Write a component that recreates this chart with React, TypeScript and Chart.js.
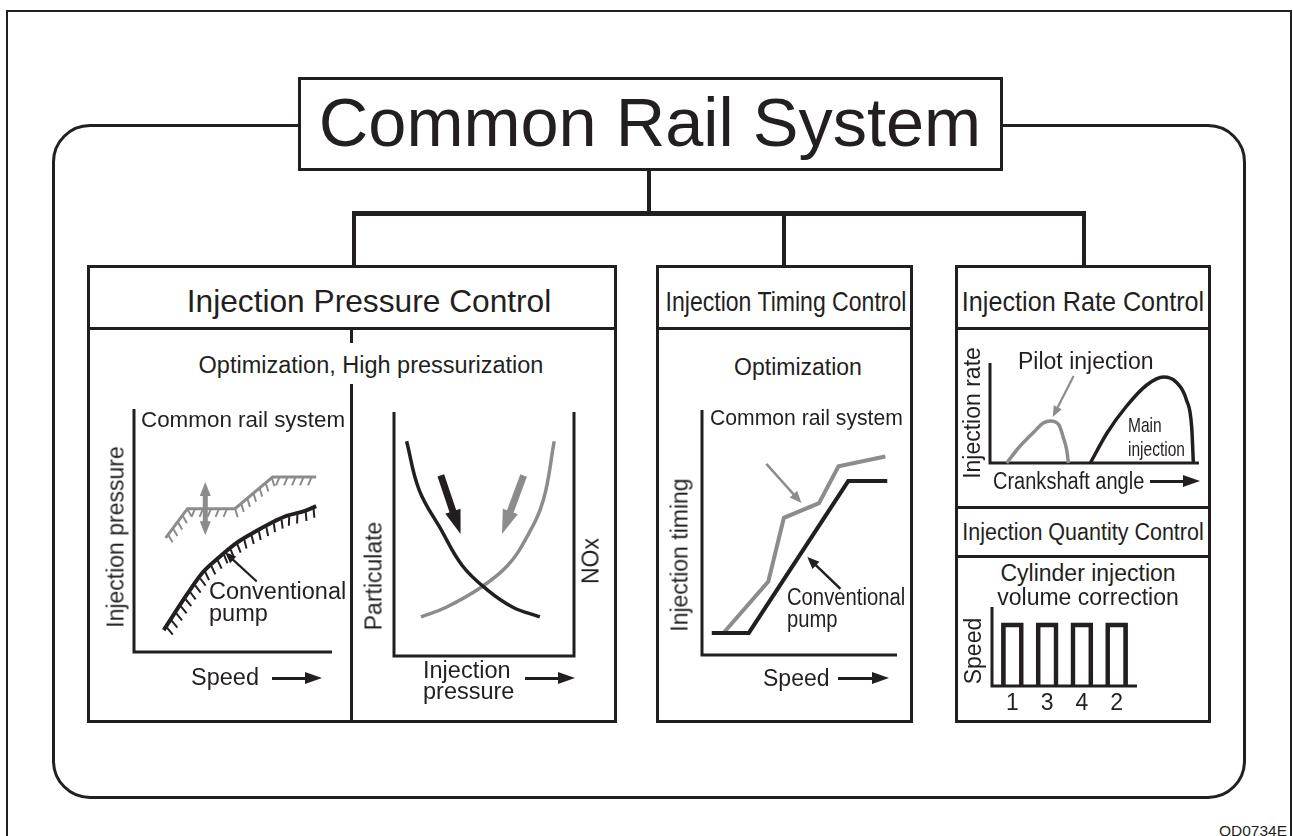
import React, { useEffect, useRef } from 'react';
import { Chart, registerables } from 'chart.js';

Chart.register(...registerables);

const INK = '#231f20';
const GRAY = '#8c8c8c';
const FONT = "'Liberation Sans', Arial, Helvetica, sans-serif";

// ---------------- Data (relative units 0–100) ----------------
// Injection pressure vs speed
const crSpeed = [16, 27, 51, 70, 92];
const crPressure = [47, 59, 59, 72, 72];
const convSpeed = [15, 27, 35, 43, 52, 60, 69, 77, 86, 92];
const convPressure = [9, 24, 33, 39, 45, 49, 53, 56, 58, 60];
const pressureRangeSpeed = [36, 36];
const pressureRangeValue = [48, 70];
const convPointerSpeed = [62, 46];
const convPointerValue = [29, 41];

// Particulate / NOx vs injection pressure
const pmPressure = [7, 14, 26, 38, 52, 66, 81];
const pmLevel = [88, 68, 52, 37, 27, 20, 16];
const noxPressure = [15, 29, 48, 63, 74, 83, 89];
const noxLevel = [16, 20, 28, 37, 49, 64, 88];
const pmTrendPressure = [26, 37];
const pmTrendLevel = [74, 50];
const noxTrendPressure = [72, 60];
const noxTrendLevel = [74, 50];

// Injection timing vs speed
const timingCrSpeed = [11, 34, 42, 60, 70, 94];
const timingCrValue = [9, 30, 56, 62, 77, 81];
const timingConvSpeed = [5, 24, 75, 95];
const timingConvValue = [9, 9, 71, 71];
const timingCrPointerSpeed = [33, 51];
const timingCrPointerValue = [78, 62];
const timingConvPointerSpeed = [71, 54];
const timingConvPointerValue = [27, 40];

// Injection rate vs crankshaft angle
const pilotAngle = [8, 14, 21, 25.5, 29, 33, 35, 36.7, 37.5];
const pilotRate = [0, 16, 31, 40, 42, 38, 26, 13, 0];
const mainAngle = [48, 56, 65, 75, 83, 89, 94, 96.5, 97.3];
const mainRate = [0, 30, 56, 78, 86, 81, 63, 36, 0];
const pilotPointerAngle = [40, 30];
const pilotPointerRate = [87, 46];

// Cylinder speed after injection volume correction
const cylinderOrder = ['1', '3', '4', '2'];
const cylinderSpeed = [80, 80, 80, 80];

// ---------------- Chart helpers ----------------
function drawArrowPx(ctx: any, x1: number, y1: number, x2: number, y2: number, color: string, width: number, head: number, half: number, both?: boolean) {
  const dx = x2 - x1, dy = y2 - y1, L = Math.hypot(dx, dy);
  if (!L) return;
  const ux = dx / L, uy = dy / L;
  ctx.strokeStyle = color;
  ctx.fillStyle = color;
  ctx.lineWidth = width;
  ctx.lineCap = 'butt';
  const sx = both ? x1 + ux * head * 0.8 : x1;
  const sy = both ? y1 + uy * head * 0.8 : y1;
  const ex = x2 - ux * head * 0.8, ey = y2 - uy * head * 0.8;
  ctx.beginPath();
  ctx.moveTo(sx, sy);
  ctx.lineTo(ex, ey);
  ctx.stroke();
  const tri = (tx: number, ty: number, vx: number, vy: number) => {
    ctx.beginPath();
    ctx.moveTo(tx, ty);
    ctx.lineTo(tx - vx * head - vy * half, ty - vy * head + vx * half);
    ctx.lineTo(tx - vx * head + vy * half, ty - vy * head - vx * half);
    ctx.closePath();
    ctx.fill();
  };
  tri(x2, y2, ux, uy);
  if (both) tri(x1, y1, -ux, -uy);
}

type ArrowSpec = { xs: number[]; ys: number[]; color: string; width: number; head: number; half: number; both?: boolean };
type DiagramCfg = { axisWidth: number; right?: boolean; extL?: number; extR?: number; arrows?: ArrowSpec[]; tickLabels?: boolean };

function diagramPlugin(cfg: DiagramCfg) {
  return {
    id: 'diagram',
    beforeDatasetsDraw(chart: any) {
      const { ctx, chartArea: a } = chart;
      const l = a.left - (cfg.extL || 0);
      const r = a.right + (cfg.extR || 0);
      ctx.save();
      ctx.strokeStyle = INK;
      ctx.lineWidth = cfg.axisWidth;
      ctx.lineJoin = 'miter';
      ctx.lineCap = 'butt';
      ctx.beginPath();
      ctx.moveTo(l, a.top);
      ctx.lineTo(l, a.bottom);
      ctx.lineTo(r, a.bottom);
      if (cfg.right) ctx.lineTo(r, a.top);
      ctx.stroke();
      ctx.restore();
    },
    afterDatasetsDraw(chart: any) {
      const { ctx, chartArea: a, scales } = chart;
      ctx.save();
      // hatching along curves
      chart.data.datasets.forEach((ds: any, i: number) => {
        const h = ds.hatch;
        if (!h) return;
        const pts = chart.getDatasetMeta(i).data.map((e: any) => ({ x: e.x, y: e.y }));
        ctx.strokeStyle = ds.borderColor;
        ctx.lineWidth = h.width;
        ctx.lineCap = 'butt';
        const c = Math.cos(h.tilt), s = Math.sin(h.tilt);
        let carry = h.gap / 2;
        ctx.beginPath();
        for (let k = 0; k < pts.length - 1; k++) {
          const p = pts[k], q = pts[k + 1];
          const dx = q.x - p.x, dy = q.y - p.y, L = Math.hypot(dx, dy);
          if (!L) continue;
          const ux = dx / L, uy = dy / L;
          const nx = -uy, ny = ux;
          const tx = nx * c - ux * s, ty = ny * c - uy * s;
          let t = carry;
          while (t <= L) {
            const px = p.x + ux * t, py = p.y + uy * t;
            ctx.moveTo(px + tx * h.off, py + ty * h.off);
            ctx.lineTo(px + tx * (h.off + h.len), py + ty * (h.off + h.len));
            t += h.gap;
          }
          carry = t - L;
        }
        ctx.stroke();
      });
      // annotation arrows
      (cfg.arrows || []).forEach((ar) => {
        const x1 = scales.x.getPixelForValue(ar.xs[0]);
        const x2 = scales.x.getPixelForValue(ar.xs[1]);
        const y1 = scales.y.getPixelForValue(ar.ys[0]);
        const y2 = scales.y.getPixelForValue(ar.ys[1]);
        drawArrowPx(ctx, x1, y1, x2, y2, ar.color, ar.width, ar.head, ar.half, ar.both);
      });
      // category labels
      if (cfg.tickLabels) {
        ctx.fillStyle = INK;
        ctx.font = `23px ${FONT}`;
        ctx.textAlign = 'center';
        ctx.textBaseline = 'alphabetic';
        (chart.data.labels || []).forEach((lab: string, i: number) => {
          ctx.fillText(lab, scales.x.getPixelForValue(i), a.bottom + 23.5);
        });
      }
      ctx.restore();
    },
  };
}

function lineDs(xs: number[], ys: number[], color: string, width: number, smooth: string | false, hatch?: any) {
  return {
    data: xs.map((x, i) => ({ x, y: ys[i] })),
    borderColor: color,
    backgroundColor: color,
    borderWidth: width,
    pointRadius: 0,
    pointHoverRadius: 0,
    fill: false,
    clip: false,
    tension: smooth ? 0.4 : 0,
    cubicInterpolationMode: smooth === 'monotone' ? 'monotone' : 'default',
    borderCapStyle: 'butt',
    borderJoinStyle: 'miter',
    hatch,
  };
}

function baseOptions(xType = 'linear') {
  return {
    responsive: false,
    maintainAspectRatio: false,
    animation: false,
    devicePixelRatio: 1,
    events: [],
    plugins: { legend: { display: false }, tooltip: { enabled: false } },
    scales: {
      x: xType === 'linear' ? { type: 'linear', min: 0, max: 100, display: false } : { type: 'category', display: false },
      y: { type: 'linear', min: 0, max: 100, display: false },
    },
  } as any;
}

const pressureChart = () => ({
  type: 'line',
  data: {
    datasets: [
      lineDs(crSpeed, crPressure, GRAY, 3, false, { len: 8, gap: 8, tilt: 0.4, width: 2, off: 1 }),
      lineDs(convSpeed, convPressure, INK, 4, 'monotone', { len: 9, gap: 8.5, tilt: 0.3, width: 2, off: 1.5 }),
    ],
  },
  options: baseOptions(),
  plugins: [
    diagramPlugin({
      axisWidth: 3,
      arrows: [
        { xs: pressureRangeSpeed, ys: pressureRangeValue, color: GRAY, width: 5, head: 14, half: 5.5, both: true },
        { xs: convPointerSpeed, ys: convPointerValue, color: INK, width: 2.2, head: 11, half: 4.5 },
      ],
    }),
  ],
});

const emissionChart = () => ({
  type: 'line',
  data: {
    datasets: [
      lineDs(pmPressure, pmLevel, INK, 3.5, 'spline'),
      lineDs(noxPressure, noxLevel, GRAY, 3.5, 'spline'),
    ],
  },
  options: baseOptions(),
  plugins: [
    diagramPlugin({
      axisWidth: 3,
      right: true,
      arrows: [
        { xs: pmTrendPressure, ys: pmTrendLevel, color: INK, width: 7, head: 24, half: 8 },
        { xs: noxTrendPressure, ys: noxTrendLevel, color: GRAY, width: 7, head: 24, half: 8 },
      ],
    }),
  ],
});

const timingChart = () => ({
  type: 'line',
  data: {
    datasets: [
      lineDs(timingConvSpeed, timingConvValue, INK, 4, false),
      lineDs(timingCrSpeed, timingCrValue, GRAY, 4, false),
    ],
  },
  options: baseOptions(),
  plugins: [
    diagramPlugin({
      axisWidth: 3,
      arrows: [
        { xs: timingCrPointerSpeed, ys: timingCrPointerValue, color: GRAY, width: 2.5, head: 12, half: 5 },
        { xs: timingConvPointerSpeed, ys: timingConvPointerValue, color: INK, width: 2.5, head: 12, half: 5 },
      ],
    }),
  ],
});

const rateChart = () => ({
  type: 'line',
  data: {
    datasets: [
      lineDs(pilotAngle, pilotRate, GRAY, 3.5, 'monotone'),
      lineDs(mainAngle, mainRate, INK, 3.5, 'monotone'),
    ],
  },
  options: baseOptions(),
  plugins: [
    diagramPlugin({
      axisWidth: 3,
      arrows: [{ xs: pilotPointerAngle, ys: pilotPointerRate, color: GRAY, width: 2.2, head: 11, half: 4.5 }],
    }),
  ],
});

const cylinderChart = () => ({
  type: 'bar',
  data: {
    labels: cylinderOrder,
    datasets: [
      {
        data: cylinderSpeed,
        backgroundColor: 'rgba(255,255,255,0)',
        borderColor: INK,
        borderWidth: 4,
        barThickness: 22,
        borderSkipped: 'start',
      },
    ],
  },
  options: baseOptions('category'),
  plugins: [diagramPlugin({ axisWidth: 3, extL: 3, extR: 3, tickLabels: true })],
});

// ---------------- Components ----------------
function MiniChart({ box, area, make }: { box: number[]; area: number[]; make: () => any }) {
  const ref = useRef<HTMLCanvasElement>(null);
  useEffect(() => {
    const cfg = make();
    cfg.options.layout = {
      padding: {
        left: area[0] - box[0],
        top: area[1] - box[1],
        right: box[0] + box[2] - area[2],
        bottom: box[1] + box[3] - area[3],
      },
    };
    const chart = new Chart(ref.current as HTMLCanvasElement, cfg);
    return () => chart.destroy();
  }, []);
  return (
    <canvas
      ref={ref}
      width={box[2]}
      height={box[3]}
      style={{ position: 'absolute', left: box[0], top: box[1], width: box[2], height: box[3] }}
    />
  );
}

function Txt({ x, y, size = 23, left = false, right = false, sx = 1, rot = 0, children }: any) {
  const tx = left ? '0' : right ? '-100%' : '-50%';
  let transform = `translate(${tx}, -50%)`;
  if (rot) transform += ` rotate(${rot}deg)`;
  if (sx !== 1) transform += ` scaleX(${sx})`;
  return (
    <div
      style={{
        position: 'absolute',
        left: x,
        top: y,
        fontSize: size,
        lineHeight: 1,
        whiteSpace: 'nowrap',
        color: INK,
        transform,
        transformOrigin: left ? 'left center' : right ? 'right center' : 'center center',
      }}
    >
      {children}
    </div>
  );
}

function Box({ l, t, w, h, b = 3, r = 0, bg }: any) {
  return (
    <div
      style={{
        position: 'absolute',
        left: l,
        top: t,
        width: w,
        height: h,
        border: `${b}px solid ${INK}`,
        borderRadius: r,
        boxSizing: 'border-box',
        background: bg,
      }}
    />
  );
}

function Bar({ l, t, w, h }: any) {
  return <div style={{ position: 'absolute', left: l, top: t, width: w, height: h, background: INK }} />;
}

function HArrow({ x1, x2, y, w = 3, head = 17, half = 6 }: any) {
  return (
    <>
      <div style={{ position: 'absolute', left: x1, top: y - w / 2, width: x2 - x1 - head + 2, height: w, background: INK }} />
      <div
        style={{
          position: 'absolute',
          left: x2 - head,
          top: y - half,
          width: 0,
          height: 0,
          borderTop: `${half}px solid transparent`,
          borderBottom: `${half}px solid transparent`,
          borderLeft: `${head}px solid ${INK}`,
        }}
      />
    </>
  );
}

export default function App() {
  return (
    <div
      style={{
        position: 'absolute',
        left: 0,
        top: 0,
        width: 1293,
        height: 836,
        overflow: 'hidden',
        background: '#fff',
        fontFamily: FONT,
        color: INK,
      }}
    >
      {/* frames */}
      <Box l={6} t={10} w={1286} h={900} b={2} />
      <Box l={52} t={124} w={1194} h={675} r={38} />
      <Bar l={647} t={170} w={4} h={43} />
      <Bar l={352} t={211} w={734} h={5} />
      <Bar l={352} t={211} w={4} h={55} />
      <Bar l={782} t={211} w={4} h={55} />
      <Bar l={1082} t={211} w={4} h={55} />
      <Box l={298} t={77} w={705} h={94} bg="#fff" />
      <Txt x={650} y={123} size={68.5}>Common Rail System</Txt>

      {/* panel 1 */}
      <Box l={87} t={265} w={530} h={458} />
      <Bar l={87} t={327} w={530} h={3} />
      <Bar l={350} t={329} w={3} h={14} />
      <Bar l={350} t={384} w={3} h={338} />
      {/* panel 2 */}
      <Box l={656} t={265} w={257} h={458} />
      <Bar l={656} t={327} w={257} h={3} />
      {/* panel 3 */}
      <Box l={955} t={265} w={256} h={458} />
      <Bar l={955} t={327} w={256} h={3} />
      <Bar l={955} t={506} w={256} h={3} />
      <Bar l={955} t={555} w={256} h={3} />

      {/* charts */}
      <MiniChart box={[105, 395, 245, 275]} area={[134, 409, 332, 652]} make={pressureChart} />
      <MiniChart box={[380, 400, 215, 270]} area={[394, 412, 574, 656]} make={emissionChart} />
      <MiniChart box={[690, 400, 215, 265]} area={[702, 410, 897, 655]} make={timingChart} />
      <MiniChart box={[980, 350, 225, 125]} area={[990, 363, 1199, 463]} make={rateChart} />
      <MiniChart box={[980, 595, 165, 125]} area={[995, 607, 1134, 686]} make={cylinderChart} />

      {/* panel 1 text */}
      <Txt x={369} y={302} size={31.7}>Injection Pressure Control</Txt>
      <Txt x={371} y={366} size={23.5}>Optimization, High pressurization</Txt>
      <Txt x={141} y={420} size={22.4} left>Common rail system</Txt>
      <Txt x={116} y={537} rot={-90}>Injection pressure</Txt>
      <Txt x={209} y={592} size={23.5} left>Conventional</Txt>
      <Txt x={209} y={614} size={23.5} left>pump</Txt>
      <Txt x={191} y={678} size={23.5} left>Speed</Txt>
      <HArrow x1={272} x2={322} y={678} />
      <Txt x={374} y={576} rot={-90}>Particulate</Txt>
      <Txt x={591} y={561} rot={-90}>NOx</Txt>
      <Txt x={423} y={671} size={23.5} left>Injection</Txt>
      <Txt x={423} y={692} size={23.5} left>pressure</Txt>
      <HArrow x1={525} x2={575} y={678} />

      {/* panel 2 text */}
      <Txt x={786} y={302} size={28} sx={0.823}>Injection Timing Control</Txt>
      <Txt x={798} y={367}>Optimization</Txt>
      <Txt x={710} y={418} size={22.4} sx={0.945} left>Common rail system</Txt>
      <Txt x={680} y={555} rot={-90}>Injection timing</Txt>
      <Txt x={787} y={597} sx={0.88} left>Conventional</Txt>
      <Txt x={787} y={619} sx={0.88} left>pump</Txt>
      <Txt x={763} y={678} left>Speed</Txt>
      <HArrow x1={838} x2={889} y={678} />

      {/* panel 3 text */}
      <Txt x={1082.5} y={302} size={28} sx={0.9}>Injection Rate Control</Txt>
      <Txt x={1018} y={361} left>Pilot injection</Txt>
      <Txt x={972} y={413} rot={-90}>Injection rate</Txt>
      <Txt x={1128} y={424} size={21} sx={0.74} left>Main</Txt>
      <Txt x={1128} y={448} size={21} sx={0.74} left>injection</Txt>
      <Txt x={993} y={481} sx={0.87} left>Crankshaft angle</Txt>
      <HArrow x1={1150} x2={1200} y={481} />
      <Txt x={1082.5} y={532} sx={0.935}>Injection Quantity Control</Txt>
      <Txt x={1088} y={573}>Cylinder injection</Txt>
      <Txt x={1088} y={597}>volume correction</Txt>
      <Txt x={973} y={651} rot={-90}>Speed</Txt>

      <Txt x={1287} y={830.5} size={15.5} right>QD0734E</Txt>
    </div>
  );
}
